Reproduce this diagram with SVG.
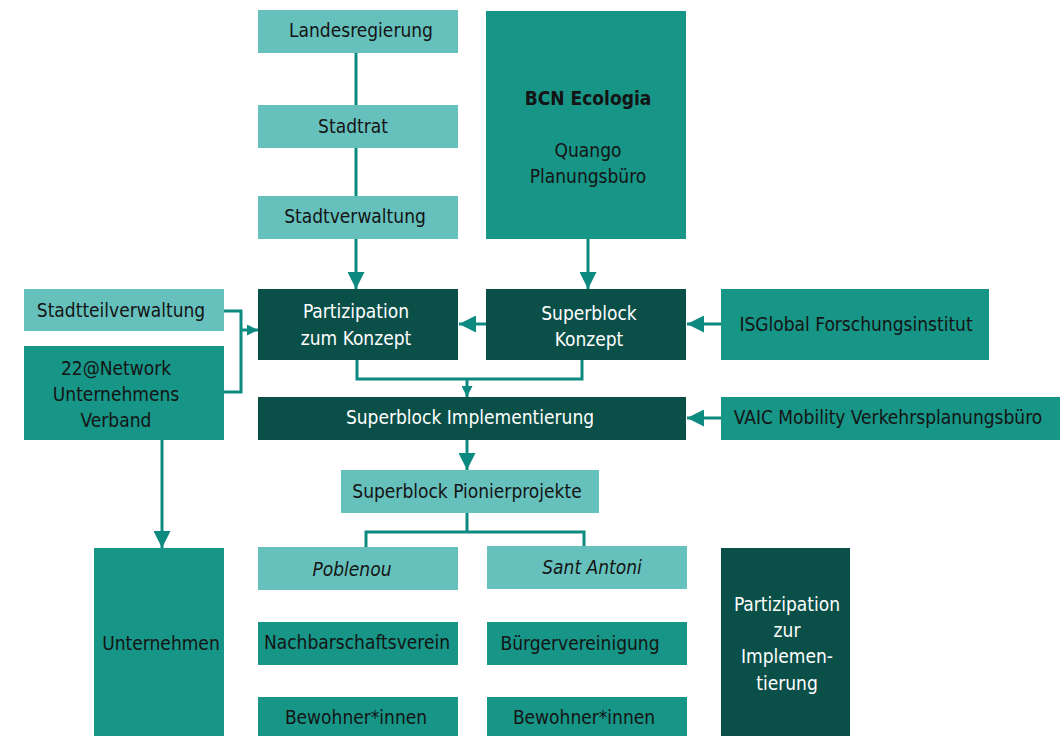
<svg xmlns="http://www.w3.org/2000/svg" width="1060" height="736" viewBox="0 0 1060 736">
<style>
.l{fill:#66c1bd}.m{fill:#179587}.d{fill:#0a4f48}
text{font-family:"DejaVu Sans Condensed","Liberation Sans Narrow","Liberation Sans",sans-serif;font-size:19px;text-anchor:middle;fill:#141414}
.w{fill:#ffffff}
.c{fill:none;stroke:#0d8a80;stroke-width:3}
.i{font-style:italic}
</style>
<defs>
<marker id="a" viewBox="0 0 10 10" refX="10" refY="5" markerWidth="17" markerHeight="17" markerUnits="userSpaceOnUse" orient="auto"><path d="M0,0L10,5L0,10z" fill="#0d8a80"/></marker>
<marker id="s" viewBox="0 0 10 10" refX="10" refY="5" markerWidth="11" markerHeight="11" markerUnits="userSpaceOnUse" orient="auto"><path d="M0,0L10,5L0,10z" fill="#0d8a80"/></marker>
</defs>
<g id="connectors">
<path class="c" d="M356,53V105M356,148V196"/>
<path class="c" d="M356,239V289" marker-end="url(#a)"/>
<path class="c" d="M588,239V289" marker-end="url(#a)"/>
<path class="c" d="M486,324H459" marker-end="url(#a)"/>
<path class="c" d="M721,324H687" marker-end="url(#a)"/>
<path class="c" d="M721,418H687" marker-end="url(#a)"/>
<path class="c" d="M224,311H241V392H224"/>
<path class="c" d="M241,330H258" marker-end="url(#s)"/>
<path class="c" d="M357,360V379H582V360"/>
<path class="c" d="M467,379V397" marker-end="url(#s)"/>
<path class="c" d="M467,440V470" marker-end="url(#a)"/>
<path class="c" d="M467,513V532M366,547V532H584V547"/>
<path class="c" d="M162,440V548" marker-end="url(#a)"/>
</g>
<g id="landesregierung"><rect class="l" x="258" y="10" width="200" height="43"/><text x="361" y="37">Landesregierung</text></g>
<g id="stadtrat"><rect class="l" x="258" y="105" width="200" height="43"/><text x="353" y="133">Stadtrat</text></g>
<g id="stadtverwaltung"><rect class="l" x="258" y="196" width="200" height="43"/><text x="355" y="223">Stadtverwaltung</text></g>
<g id="bcn"><rect class="m" x="486" y="11" width="200" height="228"/><text x="588" y="105" font-weight="bold">BCN Ecologia</text><text x="588" y="157">Quango</text><text x="588" y="183">Planungsbüro</text></g>
<g id="partizipation-konzept"><rect class="d" x="258" y="289" width="200" height="71"/><text class="w" x="356" y="318">Partizipation</text><text class="w" x="356" y="345">zum Konzept</text></g>
<g id="superblock-konzept"><rect class="d" x="486" y="289" width="200" height="71"/><text class="w" x="589" y="320">Superblock</text><text class="w" x="589" y="346">Konzept</text></g>
<g id="isglobal"><rect class="m" x="721" y="289" width="268" height="71"/><text x="856" y="331">ISGlobal Forschungsinstitut</text></g>
<g id="stadtteilverwaltung"><rect class="l" x="24" y="289" width="200" height="42"/><text x="121" y="317">Stadtteilverwaltung</text></g>
<g id="network22"><rect class="m" x="24" y="346" width="200" height="94"/><text x="116" y="375">22@Network</text><text x="116" y="401">Unternehmens</text><text x="116" y="427">Verband</text></g>
<g id="superblock-implementierung"><rect class="d" x="258" y="397" width="428" height="43"/><text class="w" x="470" y="424">Superblock Implementierung</text></g>
<g id="vaic"><rect class="m" x="721" y="397" width="339" height="43"/><text x="888" y="424">VAIC Mobility Verkehrsplanungsbüro</text></g>
<g id="pionierprojekte"><rect class="l" x="341" y="470" width="258" height="43"/><text x="467" y="498">Superblock Pionierprojekte</text></g>
<g id="poblenou"><rect class="l" x="258" y="547" width="200" height="43"/><text class="i" x="352" y="576">Poblenou</text></g>
<g id="santantoni"><rect class="l" x="487" y="546" width="200" height="43"/><text class="i" x="592" y="574">Sant Antoni</text></g>
<g id="unternehmen"><rect class="m" x="94" y="548" width="130" height="188"/><text x="161" y="650">Unternehmen</text></g>
<g id="partizipation-implementierung"><rect class="d" x="721" y="548" width="129" height="188"/><text class="w" x="787" y="611">Partizipation</text><text class="w" x="787" y="637">zur</text><text class="w" x="787" y="663">Implemen-</text><text class="w" x="787" y="690">tierung</text></g>
<g id="nachbarschaftsverein"><rect class="m" x="258" y="622" width="200" height="43"/><text x="357" y="649">Nachbarschaftsverein</text></g>
<g id="buergervereinigung"><rect class="m" x="487" y="622" width="200" height="43"/><text x="580" y="650">Bürgervereinigung</text></g>
<g id="bewohner1"><rect class="m" x="258" y="697" width="200" height="39"/><text x="356" y="724">Bewohner*innen</text></g>
<g id="bewohner2"><rect class="m" x="487" y="697" width="200" height="39"/><text x="584" y="724">Bewohner*innen</text></g>
</svg>
